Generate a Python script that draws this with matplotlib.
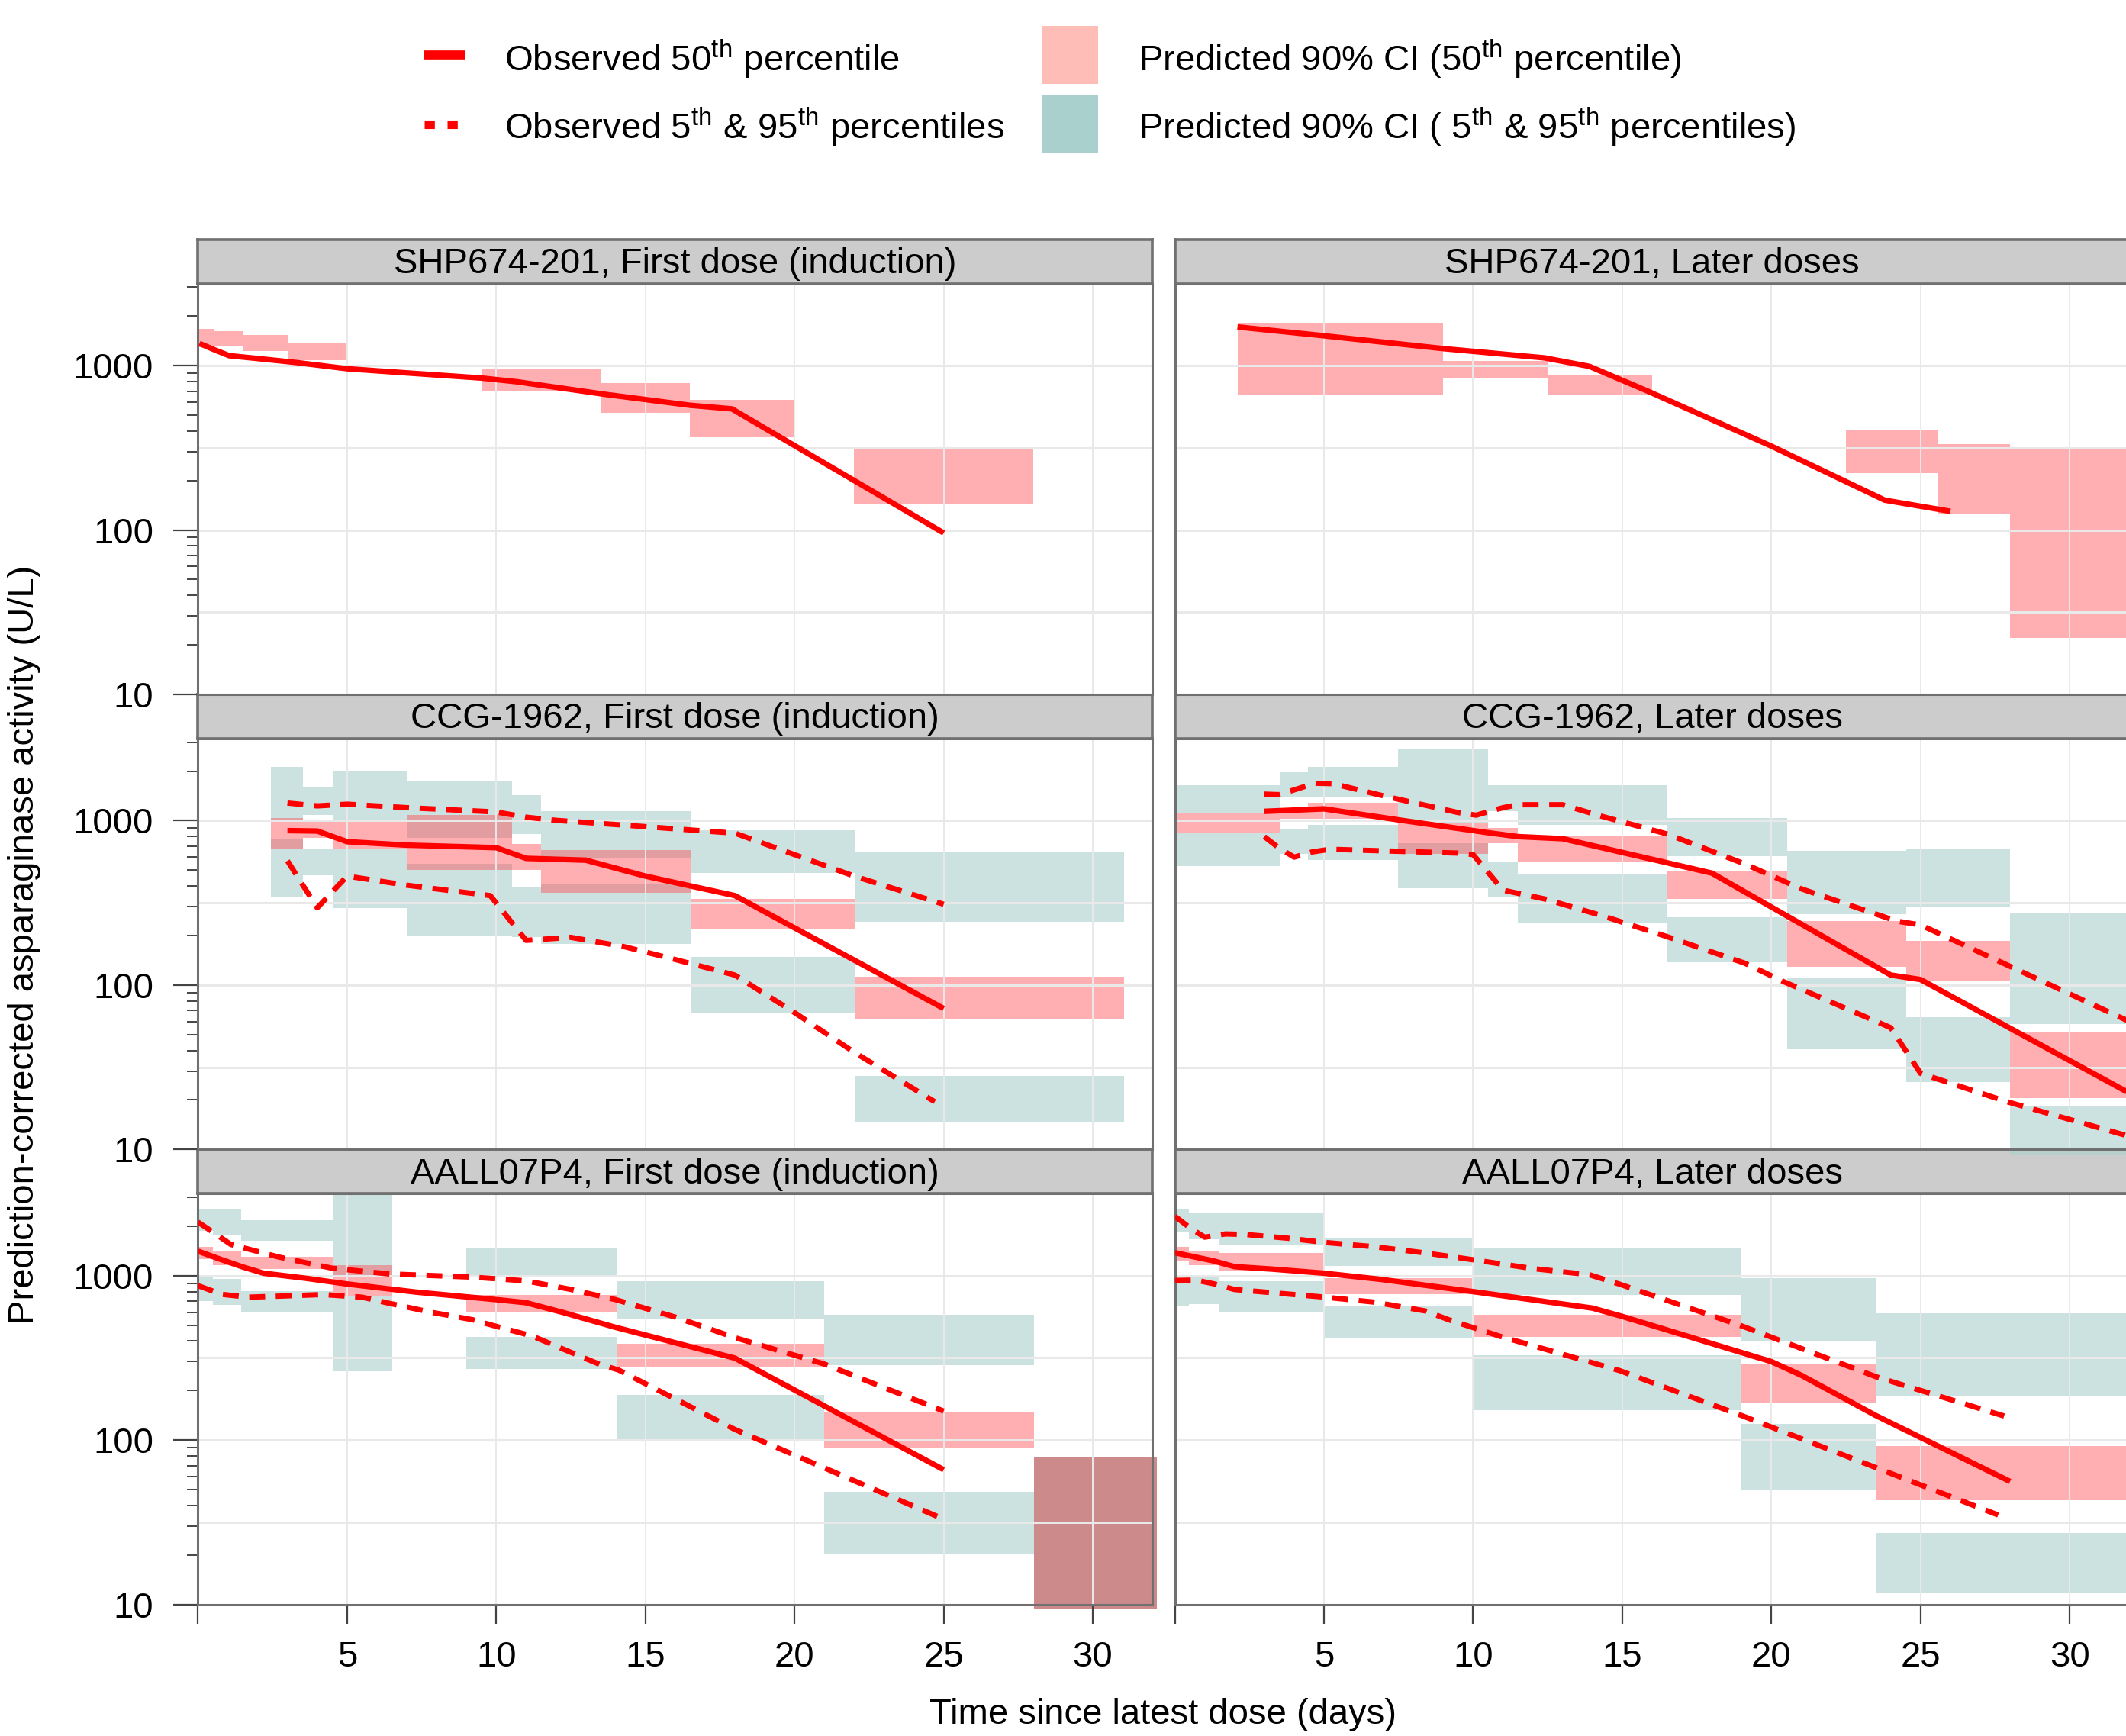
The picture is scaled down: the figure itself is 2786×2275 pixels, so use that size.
#!/usr/bin/env python3
"""Prediction-corrected VPC of asparaginase activity, three studies x two dose groups."""

import matplotlib

matplotlib.use("Agg")
import matplotlib.pyplot as plt
from matplotlib.lines import Line2D
from matplotlib.patches import Rectangle
from matplotlib.ticker import LogLocator, NullFormatter

# Boxes are (bin start, bin end, lower, upper) in days and U/L.

# SHP674-201, first dose (induction)
shp_first_t = [0.05, 0.55, 1.05, 1.8, 3.3, 5, 7.25, 9.5, 10.7, 13.6, 16.5, 17.9, 25]
shp_first_p50 = [1365, 1250, 1150, 1115, 1045, 958, 897, 841, 798, 671, 574, 546, 96]
shp_first_ci50 = [
    (0, 0.55, 1300, 1680), (0.55, 1.5, 1310, 1630), (1.5, 3.0, 1230, 1540),
    (3.0, 5.0, 1080, 1380), (9.5, 13.5, 700, 960), (13.5, 16.5, 515, 780),
    (16.5, 20.0, 365, 620), (22.0, 28.0, 145, 310),
]

# SHP674-201, later doses
shp_later_t = [2.1, 5, 9, 12.4, 13.9, 15.8, 20, 23.8, 26]
shp_later_p50 = [1720, 1520, 1270, 1115, 990, 707, 324, 152, 130]
shp_later_ci50 = [
    (2.1, 9.0, 660, 1830), (9.0, 12.5, 835, 1065), (12.5, 16.0, 660, 880),
    (22.5, 25.6, 222, 403), (25.6, 28.0, 125, 334), (28.0, 32.0, 22, 308),
]

# CCG-1962, first dose (induction)
ccg_first_t50 = [3, 4, 5, 7, 10, 11, 13, 15, 18, 25]
ccg_first_p50 = [870, 865, 745, 710, 685, 590, 575, 460, 350, 72]
ccg_first_t95 = [3, 4, 5, 7, 10, 11, 12, 15, 17, 18, 19.7, 22, 25]
ccg_first_p95 = [1280, 1230, 1260, 1200, 1130, 1050, 1005, 920, 865, 840, 650, 460, 310]
ccg_first_t05 = [3, 4, 5, 7, 9.8, 11, 12.5, 14.3, 16, 18, 20, 22, 24.7]
ccg_first_p05 = [570, 295, 460, 405, 350, 187, 195, 171, 143, 115, 68, 39, 19.5]
ccg_first_ci95 = [
    (2.45, 3.53, 1007, 2133), (3.53, 4.52, 1081, 1603), (4.52, 7.0, 989, 2023),
    (7.0, 10.52, 783, 1754), (10.52, 11.5, 826, 1426), (11.5, 16.55, 589, 1141),
    (16.55, 22.05, 483, 871), (22.05, 31.05, 242, 643),
]
ccg_first_ci50 = [
    (2.45, 3.53, 679, 1042), (3.53, 4.52, 784, 989), (4.52, 7.0, 679, 989),
    (7.0, 10.52, 501, 1079), (10.52, 11.5, 501, 721), (11.5, 16.55, 363, 662),
    (16.55, 22.05, 220, 334), (22.05, 31.05, 62, 112),
]
ccg_first_ci05 = [
    (2.45, 3.53, 344, 769), (3.53, 4.52, 467, 679), (4.52, 7.0, 293, 679),
    (7.0, 10.52, 201, 548), (10.52, 11.5, 195, 397), (11.5, 16.55, 178, 412),
    (16.55, 22.05, 67, 148), (22.05, 31.05, 14.8, 28),
]

# CCG-1962, later doses
ccg_later_t50 = [3, 5, 7.6, 10.5, 11.5, 13, 18, 24, 25, 32]
ccg_later_p50 = [1140, 1180, 1005, 845, 800, 777, 480, 115, 108, 22]
ccg_later_t95 = [3, 3.5, 4.7, 5.3, 7, 9.5, 10.1, 11, 11.5, 13, 14.3, 16.5, 19.1, 21, 24.2, 25, 32]
ccg_later_p95 = [1450, 1440, 1690, 1680, 1415, 1120, 1080, 1200, 1250, 1250, 1065, 830, 546, 385, 245, 232, 60]
ccg_later_t05 = [3, 3.5, 4, 4.6, 5.2, 9.5, 10, 11, 12.4, 14.3, 16.5, 19.1, 20.4, 24, 25, 27.9, 32]
ccg_later_p05 = [800, 680, 600, 645, 670, 635, 622, 378, 334, 265, 197, 136, 105, 55, 29, 19.5, 12]
ccg_later_ci95 = [
    (0, 3.52, 1101, 1648), (3.52, 4.46, 1390, 1963), (4.46, 7.47, 1390, 2128),
    (7.47, 10.51, 962, 2754), (10.51, 11.49, 1143, 1648), (11.49, 16.5, 938, 1648),
    (16.5, 20.52, 608, 1035), (20.52, 24.53, 269, 657), (24.53, 28.0, 300, 677),
    (28.0, 32.0, 58, 275),
]
ccg_later_ci50 = [
    (0, 3.52, 843, 1101), (3.52, 4.46, 1030, 1160), (4.46, 7.47, 1025, 1279),
    (7.47, 10.51, 630, 962), (10.51, 11.49, 726, 905), (11.49, 16.5, 564, 807),
    (16.5, 20.52, 336, 495), (20.52, 24.53, 129, 245), (24.53, 28.0, 105, 185),
    (28.0, 32.0, 20.5, 52),
]
ccg_later_ci05 = [
    (0, 3.52, 531, 843), (3.52, 4.46, 630, 884), (4.46, 7.47, 575, 938),
    (7.47, 10.51, 388, 726), (10.51, 11.49, 346, 559), (11.49, 16.5, 238, 472),
    (16.5, 20.52, 137, 259), (20.52, 24.53, 40.6, 111), (24.53, 28.0, 25.8, 63.5),
    (28.0, 32.0, 9.3, 18.4),
]

# AALL07P4, first dose (induction)
aall_first_t50 = [0, 0.8, 1.5, 2.2, 3.6, 5, 7.3, 10, 11, 12.2, 14, 18, 25]
aall_first_p50 = [1410, 1250, 1130, 1035, 965, 890, 795, 715, 685, 600, 485, 315, 66]
aall_first_t95 = [0, 0.6, 1.1, 2.7, 4.5, 6.4, 9.2, 11, 12.5, 14, 16, 18, 21, 25]
aall_first_p95 = [2120, 1790, 1550, 1300, 1110, 1025, 980, 930, 825, 715, 560, 420, 290, 150]
aall_first_t05 = [0, 0.8, 1.7, 3.1, 4.2, 5.5, 6.4, 7.8, 9.2, 10.1, 11.2, 12.3, 13.5, 14.1, 18, 25]
aall_first_p05 = [870, 770, 740, 755, 768, 740, 680, 600, 540, 486, 430, 354, 287, 267, 116, 33]
aall_first_ci95 = [
    (0, 0.5, 1884, 2559), (0.5, 1.45, 1776, 2559), (1.45, 4.53, 1637, 2167),
    (4.53, 6.52, 1010, 3160), (9.0, 14.05, 1010, 1460), (14.05, 21.0, 546, 929),
    (21.0, 28.03, 285, 577),
]
aall_first_ci50 = [
    (0, 0.5, 1266, 1500), (0.5, 1.45, 1163, 1422), (1.45, 4.53, 1100, 1303),
    (4.53, 6.52, 747, 1163), (9.0, 14.05, 595, 763), (14.05, 21.0, 279, 387),
    (21.0, 28.03, 90, 149),
]
aall_first_ci05 = [
    (0, 0.5, 703, 982), (0.5, 1.45, 667, 955), (1.45, 4.53, 596, 809),
    (4.53, 6.52, 262, 747), (9.0, 14.05, 271, 425), (14.05, 21.0, 100, 188),
    (21.0, 28.03, 20.2, 48.3),
]
aall_first_pooled = [(28.03, 32.14, 9.46, 78)]

# AALL07P4, later doses
aall_later_t50 = [0, 0.8, 1.3, 2, 3.3, 5, 6.9, 10, 14, 15, 20, 21, 23.5, 28]
aall_later_p50 = [1380, 1285, 1230, 1135, 1095, 1035, 950, 800, 635, 565, 300, 248, 141, 56]
aall_later_t95 = [0, 0.5, 1, 1.7, 2.4, 3.8, 5, 6.7, 8.4, 10, 12, 13.9, 14.9, 19, 23.5, 27.8]
aall_later_p95 = [2300, 1960, 1715, 1795, 1780, 1690, 1595, 1500, 1375, 1250, 1105, 1013, 889, 495, 243, 140]
aall_later_t05 = [0, 0.7, 1.3, 2, 3.3, 5, 6.7, 8.4, 9.2, 10.9, 14.9, 19, 23.5, 27.6]
aall_later_p05 = [935, 940, 893, 824, 787, 741, 690, 610, 538, 428, 265, 141, 68, 35]
aall_later_ci95 = [
    (0, 0.46, 1828, 2559), (0.46, 1.46, 1671, 2410), (1.46, 5.0, 1542, 2410),
    (5.0, 9.97, 1150, 1700), (9.97, 19.0, 764, 1462), (19.0, 23.53, 400, 962),
    (23.53, 32.0, 187, 590),
]
aall_later_ci50 = [
    (0, 0.46, 1230, 1505), (0.46, 1.46, 1161, 1402), (1.46, 5.0, 1067, 1368),
    (5.0, 9.97, 772, 968), (9.97, 19.0, 423, 577), (19.0, 23.53, 170, 292),
    (23.53, 32.0, 43, 91.6),
]
aall_later_ci05 = [
    (0, 0.46, 659, 984), (0.46, 1.46, 673, 984), (1.46, 5.0, 606, 926),
    (5.0, 9.97, 418, 650), (9.97, 19.0, 152, 329), (19.0, 23.53, 49.5, 125),
    (23.53, 32.0, 11.7, 27.3),
]

panel_titles = [
    "SHP674-201, First dose (induction)", "SHP674-201, Later doses",
    "CCG-1962, First dose (induction)", "CCG-1962, Later doses",
    "AALL07P4, First dose (induction)", "AALL07P4, Later doses",
]

x_ticks = [0, 5, 10, 15, 20, 25, 30]
x_tick_labels = ["", "5", "10", "15", "20", "25", "30"]
y_ticks = [10, 100, 1000]
y_tick_labels = ["10", "100", "1000"]

RED = "#FF0000"
PINK = "#FF434A"
PINK_ALPHA = 0.43
TEAL = "#AAD0CE"
TEAL_ALPHA = 0.6
POOLED = "#CD8A8A"
GRID = "#E9E9E9"
FRAME = "#707070"
STRIP = "#CCCCCC"

plt.rcParams.update(
    {
        "font.family": ["Liberation Sans", "DejaVu Sans"],
        "font.size": 17,
        "mathtext.fontset": "custom",
        "mathtext.rm": "Liberation Sans",
        "mathtext.it": "Liberation Sans:italic",
        "mathtext.bf": "Liberation Sans:bold",
    }
)

panels = [
    dict(lines=[(shp_first_t, shp_first_p50, "-")], ci50=shp_first_ci50),
    dict(lines=[(shp_later_t, shp_later_p50, "-")], ci50=shp_later_ci50),
    dict(
        lines=[(ccg_first_t50, ccg_first_p50, "-"), (ccg_first_t95, ccg_first_p95, "--"),
               (ccg_first_t05, ccg_first_p05, "--")],
        ci50=ccg_first_ci50, ci95=ccg_first_ci95, ci05=ccg_first_ci05,
    ),
    dict(
        lines=[(ccg_later_t50, ccg_later_p50, "-"), (ccg_later_t95, ccg_later_p95, "--"),
               (ccg_later_t05, ccg_later_p05, "--")],
        ci50=ccg_later_ci50, ci95=ccg_later_ci95, ci05=ccg_later_ci05,
    ),
    dict(
        lines=[(aall_first_t50, aall_first_p50, "-"), (aall_first_t95, aall_first_p95, "--"),
               (aall_first_t05, aall_first_p05, "--")],
        ci50=aall_first_ci50, ci95=aall_first_ci95, ci05=aall_first_ci05,
        pooled=aall_first_pooled,
    ),
    dict(
        lines=[(aall_later_t50, aall_later_p50, "-"), (aall_later_t95, aall_later_p95, "--"),
               (aall_later_t05, aall_later_p05, "--")],
        ci50=aall_later_ci50, ci95=aall_later_ci95, ci05=aall_later_ci05,
    ),
]

fig = plt.figure(figsize=(13.93, 11.375), dpi=200)

col_x = [0.0931, 0.5526]
row_y = [0.6000, 0.3379, 0.0758]
panel_w = 0.449
panel_h = 0.2367
strip_h = 0.0254


def add_boxes(ax, boxes, color, alpha):
    for t0, t1, lo, hi in boxes:
        ax.add_patch(
            Rectangle((t0, lo), t1 - t0, hi - lo, facecolor=color, alpha=alpha,
                      lw=0, clip_on=False, zorder=1)
        )


# strips first so that unclipped boxes of the panel above can sit over them
for i, title in enumerate(panel_titles):
    r, c = divmod(i, 2)
    sax = fig.add_axes([col_x[c], row_y[r] + panel_h, panel_w, strip_h])
    sax.set_facecolor(STRIP)
    sax.set_xticks([])
    sax.set_yticks([])
    for sp in sax.spines.values():
        sp.set_color(FRAME)
        sp.set_linewidth(1.3)
    sax.text(0.5, 0.44, title, ha="center", va="center", fontsize=17, transform=sax.transAxes)

for i, spec in enumerate(panels):
    r, c = divmod(i, 2)
    ax = fig.add_axes([col_x[c], row_y[r], panel_w, panel_h])
    ax.set_yscale("log")
    ax.set_xlim(0, 32)
    ax.set_ylim(10, 10 ** 3.5)

    add_boxes(ax, spec.get("ci95", []), TEAL, TEAL_ALPHA)
    add_boxes(ax, spec.get("ci05", []), TEAL, TEAL_ALPHA)
    add_boxes(ax, spec["ci50"], PINK, PINK_ALPHA)
    add_boxes(ax, spec.get("pooled", []), POOLED, 1.0)

    for yv in [10 ** 1.5, 100, 10 ** 2.5, 1000]:
        ax.axhline(yv, color=GRID, lw=1.1, zorder=1.5)
    for xv in x_ticks[1:]:
        ax.axvline(xv, color=GRID, lw=0.7, zorder=1.5)

    for t, v, style in spec["lines"]:
        if style == "-":
            ax.plot(t, v, color=RED, lw=2.6, solid_capstyle="butt", zorder=3)
        else:
            ax.plot(t, v, color=RED, lw=2.5, dashes=(3.0, 2.0), dash_capstyle="butt", zorder=3)

    for sp in ax.spines.values():
        sp.set_color(FRAME)
        sp.set_linewidth(1.1)

    ax.yaxis.set_minor_locator(LogLocator(base=10, subs=range(2, 10)))
    ax.yaxis.set_minor_formatter(NullFormatter())
    if c == 0:
        ax.set_yticks(y_ticks)
        ax.set_yticklabels(y_tick_labels)
        ax.tick_params(axis="y", which="major", length=11.5, width=0.8, pad=9.5,
                       labelsize=17, color="#444444")
        ax.tick_params(axis="y", which="minor", length=5, width=0.7, color="#444444")
    else:
        ax.tick_params(axis="y", which="both", left=False, labelleft=False)

    ax.set_xticks(x_ticks)
    if r == 2:
        ax.set_xticklabels(x_tick_labels)
        ax.tick_params(axis="x", length=9, width=0.8, pad=8, labelsize=17, color="#444444")
    else:
        ax.tick_params(axis="x", bottom=False, labelbottom=False)
    ax.tick_params(axis="x", which="minor", bottom=False)

fig.text(0.547, 0.0125, "Time since latest dose (days)", ha="center", va="center", fontsize=17)
fig.text(0.0115, 0.456, "Prediction-corrected asparaginase activity (U/L)", ha="center",
         va="center", rotation=90, fontsize=17)

# legend block above the panels
fig.add_artist(Line2D([0.1996, 0.2188], [0.9682, 0.9682], color=RED, lw=4.2,
                      solid_capstyle="butt", transform=fig.transFigure))
fig.add_artist(Line2D([0.1996, 0.2160], [0.9282, 0.9282], color=RED, lw=4.0,
                      dashes=(1.2, 1.5), dash_capstyle="butt", transform=fig.transFigure))
fig.add_artist(Rectangle((0.4898, 0.9516), 0.0268, 0.0333, facecolor="#FFBDB8", lw=0,
                         transform=fig.transFigure))
fig.add_artist(Rectangle((0.4898, 0.9117), 0.0268, 0.0333, facecolor=TEAL, lw=0,
                         transform=fig.transFigure))
fig.text(0.2372, 0.9594, r"Observed 50$^{\rm th}$ percentile", fontsize=17, va="baseline")
fig.text(0.2372, 0.9201, r"Observed 5$^{\rm th}$ & 95$^{\rm th}$ percentiles", fontsize=17,
         va="baseline")
fig.text(0.5357, 0.9594, r"Predicted 90% CI (50$^{\rm th}$ percentile)", fontsize=17,
         va="baseline")
fig.text(0.5357, 0.9201, r"Predicted 90% CI ( 5$^{\rm th}$ & 95$^{\rm th}$ percentiles)",
         fontsize=17, va="baseline")

fig.savefig("out.png", dpi=200)
plt.close(fig)
